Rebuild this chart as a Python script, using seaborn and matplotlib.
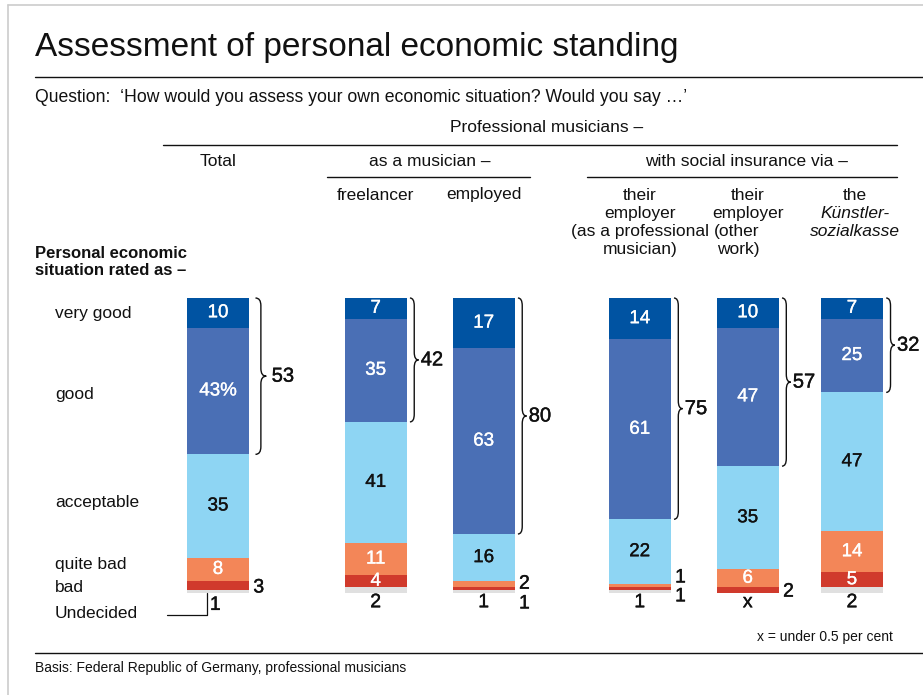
import matplotlib
matplotlib.use("Agg")
import matplotlib.pyplot as plt
import matplotlib.patheffects as pe
import numpy as np
import pandas as pd
import seaborn as sns
from matplotlib.lines import Line2D
from matplotlib.path import Path
from matplotlib.patches import PathPatch
from matplotlib.transforms import blended_transform_factory

########################
## Data
########################
groups = ["Total", "freelancer", "employed", "employer_prof", "employer_other", "ksk"]
categories = ["very good", "good", "acceptable", "quite bad", "bad", "Undecided"]
very_good = [10, 7, 17, 14, 10, 7]
good = [43, 35, 63, 61, 47, 25]
acceptable = [35, 41, 16, 22, 35, 47]
quite_bad = [8, 11, 2, 1, 6, 14]
bad = [3, 4, 1, 1, 2, 5]
undecided = [1, 2, 1, 1, 0, 2]  # 0 shown as "x" (under 0.5 per cent)

########################
## Layout / style
########################
W, H = 923, 695
slot_pos = [0, 1.46, 2.46, 3.905, 4.905, 5.87]
brace_gap = [0.06, 0.03, 0.03, 0.03, 0.03, 0.03]
x0_px, x_unit = 218, 108
y0_px, y_unit = 298, 2.95
xlim = (-1.8, 6.4)
ylim = (108, -4)
bar_data_w = 62 / x_unit

colors = {
    "very good": "#0053a2",
    "good": "#4a6fb5",
    "acceptable": "#8ed5f3",
    "quite bad": "#f38658",
    "bad": "#d03a2c",
    "Undecided": "#e0e0e0",
}
inside_color = {
    "very good": "white",
    "good": "white",
    "acceptable": "#111111",
    "quite bad": "white",
    "bad": "white",
}
# small vertical nudges for labels of thin segments (data units)
nudges = {
    ("Total", "bad"): 0.8,
    ("employed", "bad"): 5.2,
    ("employer_prof", "quite bad"): -2.6,
    ("employer_prof", "bad"): 2.8,
    ("employer_other", "bad"): 0.7,
}

sns.set_theme(style="white")
plt.rcParams["font.family"] = ["Liberation Sans", "DejaVu Sans"]
TXT = "#111111"


def heavy(color, w=0.3):
    # slightly heavier numbers, like a medium weight
    return [pe.withStroke(linewidth=w, foreground=color)]


df = pd.DataFrame({
    "group": groups,
    "pos": slot_pos,
    "very good": very_good,
    "good": good,
    "acceptable": acceptable,
    "quite bad": quite_bad,
    "bad": bad,
    "Undecided": undecided,
})
cum = df[categories].cumsum(axis=1)

fig = plt.figure(figsize=(W / 100, H / 100), dpi=100)
fig.patch.set_facecolor("white")


def fx(px):
    return px / W


def fy(py):
    return 1 - py / H


left = x0_px + xlim[0] * x_unit
right = x0_px + xlim[1] * x_unit
top = y0_px + ylim[1] * y_unit
bottom = y0_px + ylim[0] * y_unit
ax = fig.add_axes([fx(left), fy(bottom), (right - left) / W, (bottom - top) / H])

# stacked bars: draw cumulative totals from the bottom category upwards
sb_width = bar_data_w / np.min(np.diff(slot_pos))
for cat in reversed(categories):
    sns.barplot(
        x=df["pos"], y=cum[cat], native_scale=True, orient="x",
        color=colors[cat], saturation=1, width=sb_width,
        errorbar=None, linewidth=0, ax=ax,
    )
ax.set_xlim(*xlim)
ax.set_ylim(*ylim)
ax.axis("off")

# value labels
half = bar_data_w / 2
for i, g in df.iterrows():
    x = g["pos"]
    start = 0
    for cat in categories:
        v = g[cat]
        mid = start + v / 2
        if cat == "Undecided":
            lab = "x" if v < 0.5 else f"{v:g}"
            if g["group"] == "Total":
                ax.text(x - 0.075, 104.2, lab, ha="left", va="center", fontsize=14,
                        color=TXT, clip_on=False, path_effects=heavy(TXT))
                ax.plot([x - 0.1, x - 0.1, x - 0.47], [100, 107.3, 107.3],
                        color=TXT, lw=0.9, clip_on=False)
            else:
                ax.text(x, 103.3, lab, ha="center", va="center", fontsize=14,
                        color=TXT, clip_on=False, path_effects=heavy(TXT))
        elif v >= 4:
            lab = f"{v:g}%" if (g["group"] == "Total" and cat == "good") else f"{v:g}"
            c = inside_color[cat]
            ax.text(x, mid, lab, ha="center", va="center", fontsize=13.5,
                    color=c, path_effects=heavy(c, 0.25))
        else:
            ax.text(x + half + 0.04, mid + nudges.get((g["group"], cat), 0), f"{v:g}",
                    ha="left", va="center", fontsize=14, color=TXT, clip_on=False,
                    path_effects=heavy(TXT))
        start += v


# braces for "very good" + "good"
def brace(ax, x, y0, y1, w, d):
    ym = (y0 + y1) / 2
    xm = x + w / 2
    verts = [(x, y0), (xm, y0), (xm, y0 + d),
             (xm, ym - d), (xm, ym), (x + w, ym),
             (xm, ym), (xm, ym + d),
             (xm, y1 - d), (xm, y1), (x, y1)]
    codes = [Path.MOVETO, Path.CURVE3, Path.CURVE3, Path.LINETO,
             Path.CURVE3, Path.CURVE3, Path.CURVE3, Path.CURVE3,
             Path.LINETO, Path.CURVE3, Path.CURVE3]
    ax.add_patch(PathPatch(Path(verts, codes), fill=False, lw=1.0,
                           edgecolor=TXT, clip_on=False))


for (i, g), gap in zip(df.iterrows(), brace_gap):
    top_two = g["very good"] + g["good"]
    bx = g["pos"] + half + gap
    bw = 0.1 if gap > 0.03 else 0.08
    brace(ax, bx, 0, top_two, bw, 2.6)
    ax.text(bx + bw + 0.05 if gap > 0.03 else bx + bw + 0.02, top_two / 2,
            f"{top_two:g}", ha="left", va="center", fontsize=14.5, color=TXT,
            clip_on=False, path_effects=heavy(TXT))

########################
## Header / text
########################
tr = blended_transform_factory(ax.transData, fig.transFigure)


def hline(x1, x2, y, color=TXT, lw=1.0):
    fig.add_artist(Line2D([fx(x1), fx(x2)], [fy(y), fy(y)], color=color, lw=lw))


# frame
fig.add_artist(Line2D([fx(8), fx(8)], [fy(5), fy(H)], color="#cccccc", lw=1.2))
hline(8, W, 5, color="#cccccc", lw=1.2)

fig.text(fx(35), fy(56), "Assessment of personal economic standing",
         fontsize=24, color=TXT, va="baseline", ha="left")
hline(35, W, 77)
fig.text(fx(35), fy(98),
         "Question:  \u2018How would you assess your own economic situation? Would you say \u2026\u2019",
         fontsize=12.7, color=TXT, va="center", ha="left")

fig.text(fx(547), fy(128), "Professional musicians \u2013", fontsize=12.5,
         color=TXT, ha="center", va="center")
hline(163, 897, 145)

fig.text(slot_pos[0], fy(162), "Total", transform=tr, fontsize=12.5,
         color=TXT, ha="center", va="center")
fig.text(np.mean(slot_pos[1:3]), fy(162), "as a musician \u2013", transform=tr,
         fontsize=12.5, color=TXT, ha="center", va="center")
hline(327, 530, 177)
fig.text(np.mean(slot_pos[3:6]), fy(162), "with social insurance via \u2013",
         transform=tr, fontsize=12.5, color=TXT, ha="center", va="center")
hline(587, 897, 177)

fig.text(slot_pos[1], fy(195), "freelancer", transform=tr, fontsize=12.5,
         color=TXT, ha="center", va="center")
fig.text(slot_pos[2], fy(195), "employed", transform=tr, fontsize=12.5,
         color=TXT, ha="center", va="center")

for k, line in enumerate(["their", "employer", "(as a professional", "musician)"]):
    fig.text(slot_pos[3], fy(195 + 18 * k), line, transform=tr, fontsize=12.5,
             color=TXT, ha="center", va="center")
for k, line in enumerate(["their", "employer"]):
    fig.text(slot_pos[4], fy(195 + 18 * k), line, transform=tr, fontsize=12.5,
             color=TXT, ha="center", va="center")
for k, line in enumerate(["(other", "work)"]):
    fig.text(slot_pos[4] - 0.31 + 0.03 * k, fy(231 + 18 * k), line, transform=tr,
             fontsize=12.5, color=TXT, ha="left", va="center")
for k, (line, style) in enumerate([("the", "normal"), ("K\u00fcnstler-", "italic"),
                                    ("sozialkasse", "italic")]):
    fig.text(slot_pos[5] + 0.03, fy(195 + 18 * k), line, transform=tr,
             fontsize=12.5, color=TXT, ha="center", va="center", style=style)

fig.text(fx(35), fy(253), "Personal economic", fontsize=12, color=TXT,
         ha="left", va="center", fontweight="bold")
fig.text(fx(35), fy(271), "situation rated as \u2013", fontsize=12, color=TXT,
         ha="left", va="center", fontweight="bold")

row_y = [313, 394, 503, 564, 588, 614]
for cat, yy in zip(categories, row_y):
    fig.text(fx(55), fy(yy), cat, fontsize=12.5, color=TXT, ha="left", va="center")

fig.text(fx(893), fy(637), "x = under 0.5 per cent", fontsize=10, color=TXT,
         ha="right", va="center")
hline(35, W, 653)
fig.text(fx(35), fy(668), "Basis: Federal Republic of Germany, professional musicians",
         fontsize=10, color=TXT, ha="left", va="center")

fig.savefig("out.png", dpi=100)
